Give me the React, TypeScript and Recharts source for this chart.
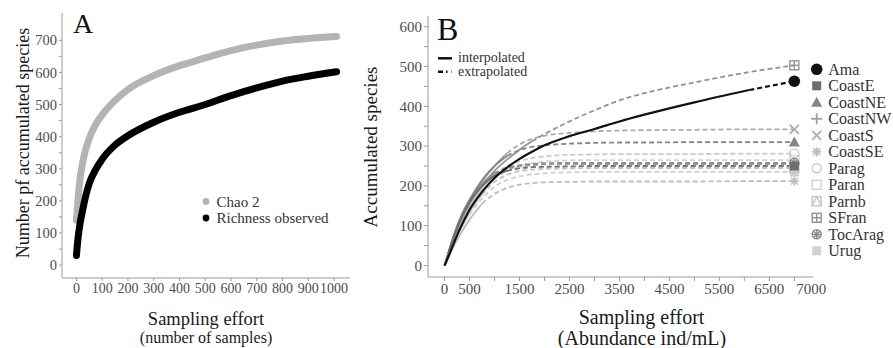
import { Line, LineChart, XAxis, YAxis } from 'recharts';

const SERIF = 'Liberation Serif, DejaVu Serif, serif';
const AXIS_GREY = '#9a9a9a';
const TICK_TEXT = '#4d4d4d';

// ---- Panel A: sample-based accumulation (number of samples) ----
const SAMPLES_A = [0, 5, 10, 25, 50, 75, 100, 150, 200, 300, 400, 500, 600, 700, 800, 900, 1010];
const CHAO2 = [140, 190, 240, 322, 395, 438, 468, 513, 547, 590, 621, 645, 668, 685, 698, 706, 712];
const RICHNESS = [30, 75, 108, 175, 255, 298, 330, 374, 403, 445, 476, 500, 528, 552, 573, 588, 602];
const TICKS_A_X = [0, 100, 200, 300, 400, 500, 600, 700, 800, 900, 1000];
const TICKS_A_Y = [0, 50, 100, 150, 200, 250, 300, 350, 400, 450, 500, 550, 600, 650, 700];

// ---- Panel B: abundance-based rarefaction / extrapolation ----
const EFFORT_B = [0, 50, 150, 300, 500, 750, 1000, 1250, 1500, 1750, 2000, 2500, 3000, 3500, 4000, 5000, 6100, 7000];
const AMA = [0, 14, 45, 90, 140, 185, 220, 246, 268, 286, 302, 325, 343, 362, 379, 410, 441, 463];
const COAST_E = [0, 20, 60, 110, 160, 200, 225, 238, 244, 247, 248, 249, 250, 250, 250, 250, 250, 250];
const COAST_NE = [0, 20, 62, 112, 165, 215, 250, 275, 290, 298, 302, 306, 308, 309, 309, 310, 310, 310];
const COAST_NW = [0, 19, 58, 108, 158, 200, 228, 242, 249, 252, 254, 255, 255, 255, 255, 255, 255, 255];
const COAST_S = [0, 20, 60, 110, 160, 210, 250, 282, 304, 318, 326, 333, 337, 339, 340, 341, 342, 342];
const COAST_SE = [0, 14, 40, 75, 115, 155, 180, 195, 203, 207, 209, 210, 211, 211, 211, 211, 212, 212];
const PARAG = [0, 18, 55, 100, 150, 195, 228, 250, 262, 270, 274, 278, 279, 280, 280, 280, 281, 281];
const PARAN = [0, 18, 55, 100, 148, 190, 218, 238, 250, 257, 261, 264, 265, 265, 265, 265, 265, 265];
const PARNB = [0, 16, 48, 90, 135, 178, 210, 228, 237, 241, 243, 244, 245, 245, 245, 245, 245, 245];
const SFRAN = [0, 18, 55, 105, 155, 200, 238, 266, 291, 312, 330, 362, 390, 415, 433, 460, 486, 503];
const TOC_ARAG = [0, 20, 62, 115, 165, 205, 232, 245, 252, 255, 257, 258, 258, 258, 258, 258, 258, 258];
const URUG = [0, 15, 45, 85, 128, 168, 198, 215, 224, 229, 232, 234, 235, 235, 235, 235, 235, 235];

const SITES = ['Ama', 'CoastE', 'CoastNE', 'CoastNW', 'CoastS', 'CoastSE', 'Parag', 'Paran', 'Parnb', 'SFran', 'TocArag', 'Urug'];
const VALUES_B: Record<string, number[]> = {
  Ama: AMA, CoastE: COAST_E, CoastNE: COAST_NE, CoastNW: COAST_NW, CoastS: COAST_S, CoastSE: COAST_SE,
  Parag: PARAG, Paran: PARAN, Parnb: PARNB, SFran: SFRAN, TocArag: TOC_ARAG, Urug: URUG,
};
// observed abundance: end of the interpolated part
const OBSERVED_B: Record<string, number> = {
  Ama: 6100, CoastE: 1250, CoastNE: 1250, CoastNW: 1000, CoastS: 1250, CoastSE: 750,
  Parag: 1000, Paran: 750, Parnb: 750, SFran: 1750, TocArag: 1000, Urug: 500,
};
const TICKS_B_X = [0, 500, 1000, 1500, 2000, 2500, 3000, 3500, 4000, 4500, 5000, 5500, 6000, 6500, 7000];
const LABELS_B_X = [0, 500, 1500, 2500, 3500, 4500, 5500, 6500, 7000];
const TICKS_B_Y = [0, 50, 100, 150, 200, 250, 300, 350, 400, 450, 500, 550, 600];

const STYLE_B: Record<string, { color: string; shape: string }> = {
  Ama: { color: '#111111', shape: 'circle' },
  CoastE: { color: '#6e6e6e', shape: 'square' },
  CoastNE: { color: '#858585', shape: 'triangle' },
  CoastNW: { color: '#9e9e9e', shape: 'plus' },
  CoastS: { color: '#acacac', shape: 'cross' },
  CoastSE: { color: '#bcbcbc', shape: 'asterisk' },
  Parag: { color: '#c9c9c9', shape: 'openCircle' },
  Paran: { color: '#d3d3d3', shape: 'openSquare' },
  Parnb: { color: '#c2c2c2', shape: 'squareTriangle' },
  SFran: { color: '#939393', shape: 'squarePlus' },
  TocArag: { color: '#8c8c8c', shape: 'circleStar' },
  Urug: { color: '#d0d0d0', shape: 'filledSquare' },
};
const DRAW_ORDER = ['Urug', 'Paran', 'Parag', 'CoastSE', 'Parnb', 'CoastS', 'CoastNW', 'SFran', 'TocArag', 'CoastNE', 'CoastE', 'Ama'];

const dataA = SAMPLES_A.map((s, i) => ({ s, chao: CHAO2[i], obs: RICHNESS[i] }));

function Marker({ shape, color, cx, cy }: { shape: string; color: string; cx: number; cy: number }) {
  const s = 4.5;
  const sw = 1.4;
  switch (shape) {
    case 'circle':
      return <circle cx={cx} cy={cy} r={5.8} fill={color} />;
    case 'square':
    case 'filledSquare':
      return <rect x={cx - s} y={cy - s} width={2 * s} height={2 * s} fill={color} />;
    case 'triangle':
      return <polygon points={`${cx},${cy - s - 1} ${cx + s + 1},${cy + s} ${cx - s - 1},${cy + s}`} fill={color} />;
    case 'plus':
      return (
        <g stroke={color} strokeWidth={1.8}>
          <line x1={cx - s - 1} y1={cy} x2={cx + s + 1} y2={cy} />
          <line x1={cx} y1={cy - s - 1} x2={cx} y2={cy + s + 1} />
        </g>
      );
    case 'cross':
      return (
        <g stroke={color} strokeWidth={1.8}>
          <line x1={cx - s} y1={cy - s} x2={cx + s} y2={cy + s} />
          <line x1={cx - s} y1={cy + s} x2={cx + s} y2={cy - s} />
        </g>
      );
    case 'asterisk':
      return (
        <g stroke={color} strokeWidth={1.6}>
          <line x1={cx - s} y1={cy} x2={cx + s} y2={cy} />
          <line x1={cx} y1={cy - s} x2={cx} y2={cy + s} />
          <line x1={cx - s * 0.75} y1={cy - s * 0.75} x2={cx + s * 0.75} y2={cy + s * 0.75} />
          <line x1={cx - s * 0.75} y1={cy + s * 0.75} x2={cx + s * 0.75} y2={cy - s * 0.75} />
        </g>
      );
    case 'openCircle':
      return <circle cx={cx} cy={cy} r={s} fill="none" stroke={color} strokeWidth={sw} />;
    case 'openSquare':
      return <rect x={cx - s} y={cy - s} width={2 * s} height={2 * s} fill="none" stroke={color} strokeWidth={sw} />;
    case 'squareTriangle':
      return (
        <g fill="none" stroke={color} strokeWidth={sw}>
          <rect x={cx - s} y={cy - s} width={2 * s} height={2 * s} />
          <polyline points={`${cx - s},${cy + s} ${cx},${cy - s} ${cx + s},${cy + s}`} />
        </g>
      );
    case 'squarePlus':
      return (
        <g fill="none" stroke={color} strokeWidth={sw}>
          <rect x={cx - s} y={cy - s} width={2 * s} height={2 * s} />
          <line x1={cx - s} y1={cy} x2={cx + s} y2={cy} />
          <line x1={cx} y1={cy - s} x2={cx} y2={cy + s} />
        </g>
      );
    case 'circleStar':
      return (
        <g fill="none" stroke={color} strokeWidth={sw}>
          <circle cx={cx} cy={cy} r={s} />
          <line x1={cx - s} y1={cy} x2={cx + s} y2={cy} />
          <line x1={cx} y1={cy - s} x2={cx} y2={cy + s} />
          <line x1={cx - s * 0.7} y1={cy - s * 0.7} x2={cx + s * 0.7} y2={cy + s * 0.7} />
          <line x1={cx - s * 0.7} y1={cy + s * 0.7} x2={cx + s * 0.7} y2={cy - s * 0.7} />
        </g>
      );
    default:
      return <g />;
  }
}

function endDot(site: string, lastIndex: number) {
  const st = STYLE_B[site];
  return (props: any) => {
    if (props.index !== lastIndex) return <g key={`${site}-d${props.index}`} />;
    return (
      <g key={`${site}-end`}>
        <Marker shape={st.shape} color={st.color} cx={props.cx} cy={props.cy} />
      </g>
    );
  };
}

function EffortTick({ x, y, payload }: any) {
  const v = payload.value as number;
  if (!LABELS_B_X.includes(v)) return <g />;
  // the last label sits a bit right of its tick in the original figure
  const nudge = v === 7000 ? 17 : 0;
  return (
    <text x={x + nudge} y={y} dy="0.71em" textAnchor="middle" fill={TICK_TEXT} fontSize={15} fontFamily={SERIF}>
      {v}
    </text>
  );
}

const tickStyle = { fill: TICK_TEXT, fontSize: 14, fontFamily: SERIF };
const hundreds = (v: number) => (v % 100 === 0 ? String(v) : '');

function PanelA() {
  return (
    <LineChart width={360} height={348} data={dataA} margin={{ top: 13, right: 10, bottom: 40, left: 0 }}>
      <XAxis
        dataKey="s"
        type="number"
        domain={[-56, 1062]}
        allowDataOverflow
        ticks={TICKS_A_X}
        interval={0}
        tick={tickStyle}
        tickSize={3}
        tickMargin={2}
        axisLine={{ stroke: AXIS_GREY }}
        tickLine={{ stroke: AXIS_GREY }}
        height={30}
      />
      <YAxis
        type="number"
        domain={[-40, 785]}
        allowDataOverflow
        ticks={TICKS_A_Y}
        interval={0}
        tickFormatter={hundreds}
        tick={{ ...tickStyle, fontSize: 14.5 }}
        tickSize={3}
        tickMargin={2}
        axisLine={{ stroke: AXIS_GREY }}
        tickLine={{ stroke: AXIS_GREY }}
        width={62}
      />
      <Line
        dataKey="chao"
        type="monotone"
        stroke="#b4b4b4"
        strokeWidth={7}
        strokeLinecap="round"
        dot={false}
        isAnimationActive={false}
      />
      <Line
        dataKey="obs"
        type="monotone"
        stroke="#000000"
        strokeWidth={7}
        strokeLinecap="round"
        dot={false}
        isAnimationActive={false}
      />
    </LineChart>
  );
}

function PanelB() {
  return (
    <LineChart width={450} height={348} margin={{ top: 16, right: 22, bottom: 46, left: 0 }}>
      <XAxis
        dataKey="x"
        type="number"
        domain={[-332, 7374]}
        allowDataOverflow
        ticks={TICKS_B_X}
        interval={0}
        tick={<EffortTick />}
        tickSize={4}
        tickMargin={2}
        axisLine={{ stroke: AXIS_GREY }}
        tickLine={{ stroke: AXIS_GREY }}
        height={25}
      />
      <YAxis
        type="number"
        domain={[-29, 627]}
        allowDataOverflow
        ticks={TICKS_B_Y}
        interval={0}
        tickFormatter={hundreds}
        tick={{ ...tickStyle, fontSize: 15 }}
        tickSize={4}
        tickMargin={2}
        axisLine={{ stroke: AXIS_GREY }}
        tickLine={{ stroke: AXIS_GREY }}
        width={43}
      />
      {DRAW_ORDER.flatMap((site) => {
        const pts = EFFORT_B.map((x, i) => ({ x, y: VALUES_B[site][i] }));
        const obs = OBSERVED_B[site];
        const interp = pts.filter((p) => p.x <= obs);
        const extrap = pts.filter((p) => p.x >= obs);
        const color = STYLE_B[site].color;
        const w = site === 'Ama' ? 2.2 : 1.8;
        return [
          <Line
            key={`${site}-i`}
            data={interp}
            dataKey="y"
            type="monotone"
            stroke={color}
            strokeWidth={w}
            dot={false}
            isAnimationActive={false}
          />,
          <Line
            key={`${site}-e`}
            data={extrap}
            dataKey="y"
            type="monotone"
            stroke={color}
            strokeWidth={w}
            strokeDasharray="5 3"
            dot={endDot(site, extrap.length - 1)}
            isAnimationActive={false}
          />,
        ];
      })}
    </LineChart>
  );
}

export default function App() {
  return (
    <div style={{ position: 'fixed', left: 0, top: 0, width: 893, height: 348, background: '#fff', overflow: 'hidden', fontFamily: SERIF }}>
      <div style={{ position: 'absolute', left: 0, top: 0 }}>
        <PanelA />
      </div>
      <div style={{ position: 'absolute', left: 385, top: 0 }}>
        <PanelB />
      </div>
      <svg width={893} height={348} style={{ position: 'absolute', left: 0, top: 0, pointerEvents: 'none', fontFamily: SERIF }}>
        {/* panel A texts */}
        <text x={73} y={33} fontSize={28} fill="#111">A</text>
        <text x={29} y={143} fontSize={18} fill="#1a1a1a" textAnchor="middle" transform="rotate(-90 29 143)">
          Number pf accumulated species
        </text>
        <text x={206} y={325} fontSize={18.5} fill="#1a1a1a" textAnchor="middle">Sampling effort</text>
        <text x={206} y={343} fontSize={16} fill="#1a1a1a" textAnchor="middle">(number of samples)</text>
        <circle cx={206} cy={201.5} r={3.4} fill="#b4b4b4" />
        <text x={216.5} y={206.5} fontSize={15} fill="#333">Chao 2</text>
        <circle cx={206} cy={218} r={3.4} fill="#000" />
        <text x={216.5} y={223} fontSize={15} fill="#333">Richness observed</text>

        {/* panel B texts */}
        <text x={437} y={39.5} fontSize={32} fill="#111">B</text>
        <text x={377} y={147} fontSize={19} fill="#1a1a1a" textAnchor="middle" transform="rotate(-90 377 147)">
          Accumulated species
        </text>
        <text x={641.5} y={323.5} fontSize={20} fill="#1a1a1a" textAnchor="middle">Sampling effort</text>
        <text x={642} y={345} fontSize={20} fill="#1a1a1a" textAnchor="middle">(Abundance ind/mL)</text>
        <line x1={438} y1={58.3} x2={452} y2={58.3} stroke="#111" strokeWidth={2.5} />
        <line x1={438} y1={71.7} x2={452} y2={71.7} stroke="#111" strokeWidth={2.5} strokeDasharray="5 3 1.5 4" />
        <text x={458} y={62} fontSize={14} fill="#333">interpolated</text>
        <text x={458} y={76} fontSize={14} fill="#333">extrapolated</text>
        {SITES.map((site, i) => {
          const cy = 69.3 + i * 16.5;
          return (
            <g key={site}>
              <Marker shape={STYLE_B[site].shape} color={STYLE_B[site].color} cx={816.7} cy={cy} />
              <text x={828.3} y={cy + 5.5} fontSize={16} fill="#333">{site}</text>
            </g>
          );
        })}
      </svg>
    </div>
  );
}
